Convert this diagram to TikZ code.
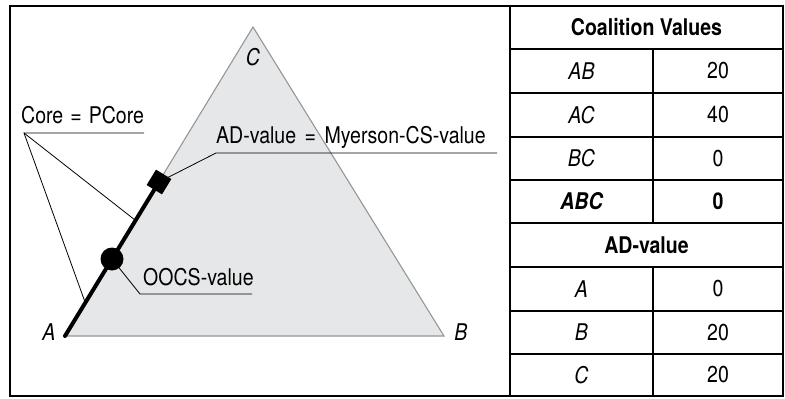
\documentclass[tikz,border=0pt]{standalone}
\usepackage{fontspec}
\setmainfont{TeX Gyre Heros}[FakeStretch=0.85]
\begin{document}
\begin{tikzpicture}[x=1pt,y=-1pt,
  lbl/.style={inner sep=0pt, font=\fontsize{23}{26}\selectfont},
  cell/.style={inner sep=0pt, font=\fontsize{23}{26}\selectfont},
  frame/.style={line width=1.6pt, black},
  conn/.style={line width=0.8pt, black}]
\useasboundingbox (0,0) rectangle (785,399);
% triangle
\coordinate (A) at (65,336);
\coordinate (B) at (444,336);
\coordinate (C) at (253,27);
\fill[fill={rgb,255:red,230;green,231;blue,232}] (A) -- (B) -- (C) -- cycle;
\draw[line width=1.1pt, draw={rgb,255:red,150;green,150;blue,150}, line join=miter] (A) -- (B) -- (C) -- cycle;
% markers
\node[fill=black, minimum size=18pt, inner sep=0pt, rotate=58.7] (sq) at (159,182) {};
\draw[line width=4pt, line cap=round] (A) -- (sq.center);
\node[circle, fill=black, minimum size=23pt, inner sep=0pt] (oc) at (112,259) {};
% vertex labels
\node[lbl, anchor=base] (lC) at (253,65) {\itshape C};
\node[lbl, anchor=base] (lA) at (49,340) {\itshape A};
\node[lbl, anchor=base] (lB) at (461,340) {\itshape B};
% Core label
\node[lbl, anchor=base west] (core) at (21,123) {Core\hspace{7pt}=\hspace{7pt}PCore};
\coordinate (coreL) at (24,133);
\coordinate (coreR) at (144,133);
\coordinate (p1) at (85,302);
\coordinate (p2) at (135,220);
\draw[conn] (coreR) -- (coreL) -- (p1);
\draw[conn] (coreL) -- (p2);
% AD label
\node[lbl, anchor=base west] (ad) at (216,143) {AD-value\hspace{8.5pt}=\hspace{8.5pt}Myerson-CS-value};
\coordinate (adL) at (216,153);
\coordinate (adR) at (497,153);
\draw[conn] (adR) -- (adL) -- (sq.center);
% OOCS label
\node[lbl, anchor=base west] (oo) at (143,285) {OOCS-value};
\coordinate (ooL) at (140,294);
\coordinate (ooR) at (252,294);
\draw[conn] (ooR) -- (ooL) -- (oc.center);
% frame
\draw[frame] (10,6) rectangle (783,396);
\draw[frame] (510,6) -- (510,396);
\foreach \y in {49,93,137,180,223,267,311,354} \draw[frame] (510,\y) -- (783,\y);
\draw[frame] (653,49) -- (653,223);
\draw[frame] (653,267) -- (653,396);
% table text
\node[cell] (h1) at (646.5,27.5) {\bfseries Coalition Values};
\node[cell] (r1a) at (581.5,71) {\itshape AB};
\node[cell] (r1b) at (718,71) {20};
\node[cell] (r2a) at (581.5,115) {\itshape AC};
\node[cell] (r2b) at (718,115) {40};
\node[cell] (r3a) at (581.5,158.5) {\itshape BC};
\node[cell] (r3b) at (718,158.5) {0};
\node[cell] (r4a) at (581.5,201.5) {\bfseries\itshape ABC};
\node[cell] (r4b) at (718,201.5) {\bfseries 0};
\node[cell] (h2) at (646.5,245) {\bfseries AD-value};
\node[cell] (s1a) at (581.5,289) {\itshape A};
\node[cell] (s1b) at (718,289) {0};
\node[cell] (s2a) at (581.5,332.5) {\itshape B};
\node[cell] (s2b) at (718,332.5) {20};
\node[cell] (s3a) at (581.5,375) {\itshape C};
\node[cell] (s3b) at (718,375) {20};
\end{tikzpicture}
\end{document}
